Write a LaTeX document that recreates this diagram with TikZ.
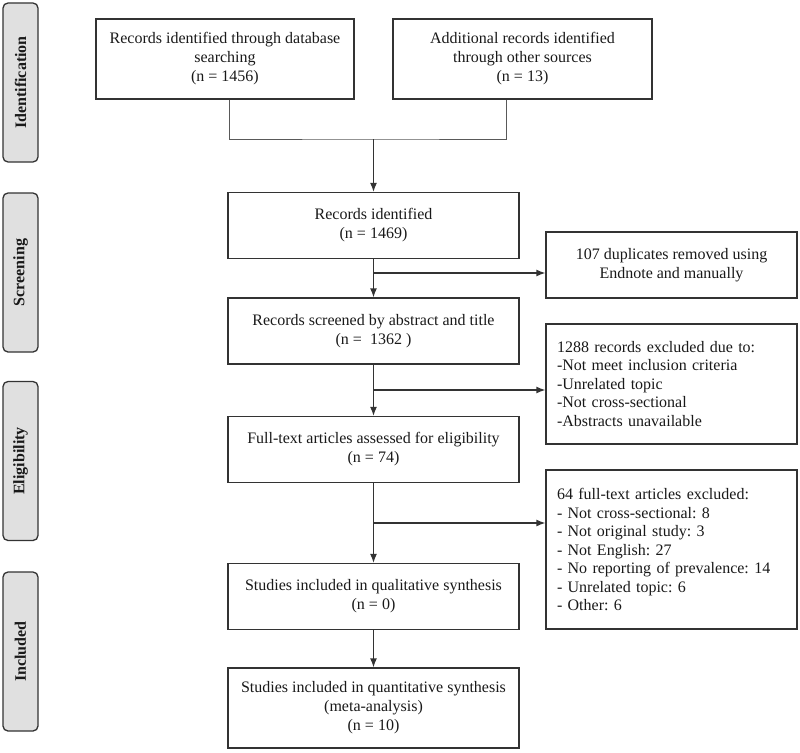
\documentclass[tikz,border=0pt]{standalone}
\usepackage{fontspec}
\setmainfont{Liberation Serif}
\usetikzlibrary{arrows.meta,positioning,calc}
\frenchspacing

\begin{document}
\begin{tikzpicture}[
x=1pt,y=-1pt,
box/.style={
  draw=black!80,
  line width=1.3pt,
  inner sep=0pt,
  align=center,
  text=black!90,
  font=\fontsize{16}{19}\selectfont
  },
mainbox/.style={
  box,
  minimum width=291,
  minimum height=66
  },
listbox/.style={
  box,
  align=left,
  text width=229,
  inner xsep=11pt,
  minimum width=251,
  font=\fontsize{16}{18.5}\selectfont
  },
stage/.style={
  draw=black!80,
  line width=1.3pt,
  fill=black!12,
  rounded corners=5pt,
  rotate=90,
  minimum width=159,
  minimum height=35,
  inner sep=0pt,
  text=black!90,
  font=\bfseries\fontsize{16}{19}\selectfont
  },
conn/.style={
  draw=black!80,
  line width=1.3pt
  },
mergeline/.style={
  draw=black!65,
  line width=0.9pt
  },
>={Latex[length=9pt,width=7pt]}
]
\useasboundingbox (0,0) rectangle (800,752);

% stages
\node[stage] (sid) at (20.5,82.5) {Identification};
\node[stage] (sscr) at (20.5,272.5) {Screening};
\node[stage] (sel) at (20.5,461) {Eligibility};
\node[stage] (sinc) at (20.5,651.5) {Included};

% main column
\node[box,minimum width=258,minimum height=80] (db) at (225,59) {Records identified through database\\searching\\(n = 1456)};
\node[box,minimum width=259,minimum height=80] (oth) at (522.5,59) {Additional records identified\\through other sources\\(n = 13)};
\node[mainbox] (rid) at (373.5,225.5) {Records identified\\(n = 1469)};
\node[mainbox] (rsc) at (373.5,331) {Records screened by abstract and title\\(n =\ \ 1362\ )};
\node[mainbox] (fta) at (373.5,449.5) {Full-text articles assessed for eligibility\\(n = 74)};
\node[mainbox] (qual) at (373.5,596.5) {Studies included in qualitative synthesis\\(n = 0)};
\node[mainbox,minimum height=80] (quan) at (373.5,708) {Studies included in quantitative synthesis\\(meta-analysis)\\(n = 10)};

% excluded
\node[box,minimum width=251,minimum height=66] (dup) at (671.5,265) {107 duplicates removed using\\Endnote and manually};
\node[listbox,minimum height=120] (exc1) at (671.5,384) {1288 records excluded due to:\\-Not meet inclusion criteria\\-Unrelated topic\\-Not cross-sectional\\-Abstracts unavailable};
\node[listbox,minimum height=159] (exc2) at (671.5,549.5) {64 full-text articles excluded:\\- Not cross-sectional: 8\\- Not original study: 3\\- Not English: 27\\- No reporting of prevalence: 14\\- Unrelated topic: 6\\- Other: 6};

% connectors
\coordinate (j) at (373.5,139);
\coordinate (b1) at (373.5,273);
\coordinate (b2) at (373.5,390);
\coordinate (b3) at (373.5,523);
\draw[mergeline] ([xshift=4pt]db.south) |- (j) -| ([xshift=-16pt]oth.south);
\draw[conn,->] (j) -- (rid);
\draw[conn,->] (rid) -- (rsc);
\draw[conn,->] (b1) -- (b1 -| dup.west);
\draw[conn,->] (rsc) -- (fta);
\draw[conn,->] (b2) -- (b2 -| exc1.west);
\draw[conn,->] (fta) -- (qual);
\draw[conn,->] (b3) -- (b3 -| exc2.west);
\draw[conn,->] (qual) -- (quan);
\end{tikzpicture}
\end{document}
